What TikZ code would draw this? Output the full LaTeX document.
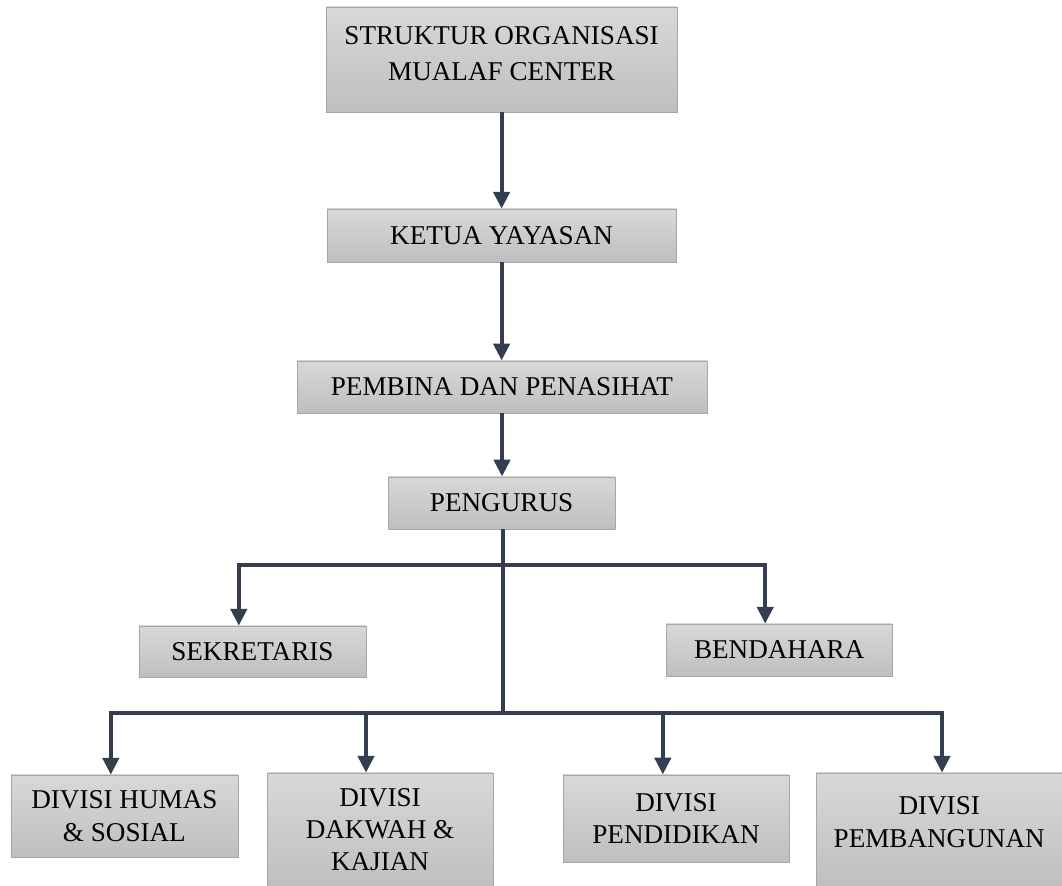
\documentclass[tikz,border=0pt]{standalone}
\usepackage{fontspec}
\setmainfont{Liberation Serif}
\usepackage{tikz}
\usetikzlibrary{shapes,arrows.meta,positioning}

\definecolor{boxtop}{RGB}{216,216,216}
\definecolor{boxbot}{RGB}{191,191,191}
\definecolor{boxline}{RGB}{166,166,166}
\definecolor{linkcol}{RGB}{51,63,80}

\tikzset{
  orgbox/.style={shape=rectangle,draw=boxline,top color=boxtop,bottom color=boxbot,
    inner sep=0pt,align=center,font=\fontsize{19.3}{23}\selectfont},
  link/.style={draw=linkcol,line width=2.9pt},
  >={Triangle[length=4.2mm,width=4mm]}
}

\begin{document}
\begin{tikzpicture}
\useasboundingbox (0,0) rectangle (26.55,22.15);

% Top row
\node [orgbox,minimum width=8.78cm,minimum height=2.63cm,font=\fontsize{19.3}{26}\selectfont] at (12.54,20.66) (top) {STRUKTUR ORGANISASI\\MUALAF CENTER\\[-17.5pt]\mbox{}};

% Second row
\node [orgbox,minimum width=8.73cm,minimum height=1.33cm] at (12.54,16.26) (ketua) {KETUA YAYASAN};

% Third row
\node [orgbox,minimum width=10.25cm,minimum height=1.3cm] at (12.55,12.48) (pembina) {PEMBINA DAN PENASIHAT};

% Fourth row
\node [orgbox,minimum width=5.68cm,minimum height=1.3cm] at (12.54,9.58) (pengurus) {PENGURUS};

% Fifth row
\node [orgbox,minimum width=5.68cm,minimum height=1.28cm] at (6.31,5.86) (sekretaris) {SEKRETARIS};
\node [orgbox,minimum width=5.65cm,minimum height=1.3cm] at (19.48,5.9) (bendahara) {BENDAHARA};

% Bottom row
\node [orgbox,minimum width=5.68cm,minimum height=2.05cm] at (3.11,1.75) (humas) {DIVISI HUMAS\\\& SOSIAL};
\node [orgbox,minimum width=5.65cm,minimum height=2.83cm] at (9.5,1.41) (dakwah) {DIVISI\\DAKWAH \&\\KAJIAN};
\node [orgbox,minimum width=5.65cm,minimum height=2.18cm] at (16.9,1.69) (pendidikan) {DIVISI\\PENDIDIKAN};
\node [orgbox,minimum width=6.15cm,minimum height=2.83cm] at (23.48,1.41) (pembangunan) {DIVISI\\PEMBANGUNAN\\[-12pt]\mbox{}};

% Junctions on the two horizontal lines
\coordinate (bus1) at (12.575,8.025);
\coordinate (bus2) at (12.575,4.325);

% Lines down the middle
\draw [link,->] (top.south) -- (top.south |- ketua.north);
\draw [link,->] (ketua.south) -- (ketua.south |- pembina.north);
\draw [link,->] (pembina.south) -- (pembina.south |- pengurus.north);
\draw [link] (pengurus.south -| bus1) -- (bus2);

% Lines to secretary and treasurer
\draw [link,->] (bus1) -| ([xshift=-3.4mm]sekretaris.north);
\draw [link,->] (bus1) -| ([xshift=-3.5mm]bendahara.north);

% Lines to the divisions
\draw [link,->] (bus2) -| ([xshift=-3.4mm]humas.north);
\draw [link,->] (bus2) -| ([xshift=-3.5mm]dakwah.north);
\draw [link,->] (bus2) -| ([xshift=-3.3mm]pendidikan.north);
\draw [link,->] (bus2) -| ([xshift=0.7mm]pembangunan.north);

\end{tikzpicture}
\end{document}
